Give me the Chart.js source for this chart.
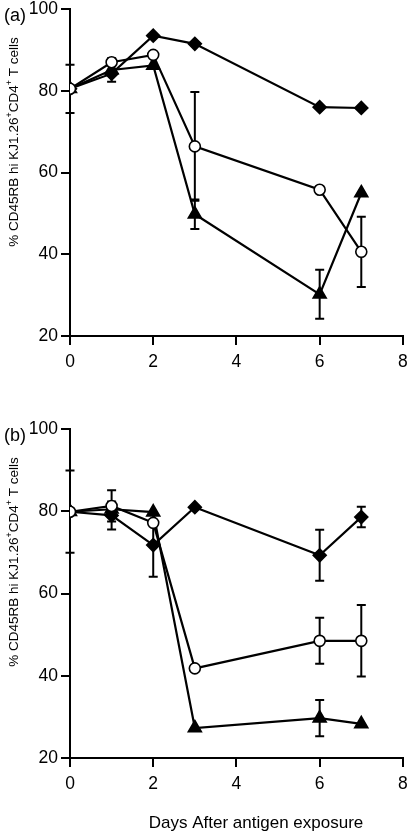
<!DOCTYPE html>
<html>
<head>
<meta charset="utf-8">
<script src="https://cdn.jsdelivr.net/npm/chart.js@4"></script>
<style>
  html, body { margin: 0; padding: 0; background: #fff; }
  #wrap { position: relative; width: 412px; height: 835px; overflow: hidden; }
  .box { position: absolute; left: 0; width: 412px; }
  #boxA { top: 0; height: 420px; }
  #boxB { top: 420px; height: 415px; }
</style>
</head>
<body>
<div id="wrap">
  <div class="box" id="boxA"><canvas id="chartA"></canvas></div>
  <div class="box" id="boxB"><canvas id="chartB"></canvas></div>
</div>
<script>
// ---- Data ----
const days = [0, 1, 2, 3, 6, 7];
const xTicks = [0, 2, 4, 6, 8];
const yTicks = [20, 40, 60, 80, 100];

// Panel (a)
const diamondA = [80.5, 84.2, 93.5, 91.5, 76.0, 75.8];
const circleA = [80.5, 87.0, 88.8, 66.4, 55.8, 40.6];
const triangleA = [80.5, 85.1, 86.2, 49.8, 30.2, 55.0];
const diamondErrA = [0, 0, 0, 0, 0, 0];
const circleErrA = [5.9, 0, 0, 13.3, 0, 8.6];
const triangleErrA = [0, 2.9, 0, 3.6, 6.0, 0];

// Panel (b)
const diamondB = [79.9, 79.0, 71.8, 81.0, 69.3, 78.6];
const circleB = [79.9, 81.3, 77.2, 41.8, 48.5, 48.5];
const triangleB = [79.9, 80.5, 79.8, 27.3, 29.7, 28.3];
const diamondErrB = [10.0, 3.4, 7.7, 0, 6.2, 2.5];
const circleErrB = [0, 3.8, 0, 0, 5.6, 8.7];
const triangleErrB = [0, 0, 0, 0, 4.4, 0];

const panelLabels = ['(a)', '(b)'];
const yTitleParts = [['% CD45RB hi KJ1.26', false], ['+', true], ['CD4', false], ['+', true], [' T cells', false]];
const xTitle = 'Days After antigen exposure';

const FONT = '"Liberation Sans", Arial, Helvetica, sans-serif';

function pts(vals) { return days.map((d, i) => ({ x: d, y: vals[i] })); }

const errorBarPlugin = {
  id: 'errorBars',
  beforeDatasetsDraw(chart) {
    const ctx = chart.ctx;
    const xs = chart.scales.x, ys = chart.scales.y;
    ctx.save();
    ctx.strokeStyle = '#000';
    ctx.lineWidth = 2;
    chart.data.datasets.forEach(ds => {
      (ds.errors || []).forEach((e, i) => {
        if (!e) return;
        const p = ds.data[i];
        const x = xs.getPixelForValue(p.x);
        const yt = ys.getPixelForValue(p.y + e);
        const yb = ys.getPixelForValue(p.y - e);
        ctx.beginPath();
        ctx.moveTo(x, yt); ctx.lineTo(x, yb);
        ctx.moveTo(x - 4.5, yt); ctx.lineTo(x + 4.5, yt);
        ctx.moveTo(x - 4.5, yb); ctx.lineTo(x + 4.5, yb);
        ctx.stroke();
      });
    });
    ctx.restore();
  }
};

const textPlugin = {
  id: 'texts',
  afterDraw(chart, args, opts) {
    const ctx = chart.ctx;
    ctx.save();
    ctx.fillStyle = '#000';
    // panel label
    ctx.font = '18px ' + FONT;
    ctx.textBaseline = 'alphabetic';
    ctx.textAlign = 'left';
    ctx.fillText(opts.label, 4, chart.chartArea.top + 12);
    // y title, rotated, with superscripts
    const big = '13.5px ' + FONT, small = '9px ' + FONT;
    let total = 0;
    yTitleParts.forEach(([t, sup]) => { ctx.font = sup ? small : big; total += ctx.measureText(t).width; });
    ctx.translate(opts.yTitleX, opts.yTitleY);
    ctx.rotate(-Math.PI / 2);
    let cx = -total / 2;
    yTitleParts.forEach(([t, sup]) => {
      ctx.font = sup ? small : big;
      ctx.fillText(t, cx, sup ? -1 : 5);
      cx += ctx.measureText(t).width;
    });
    ctx.setTransform(1, 0, 0, 1, 0, 0);
    if (opts.xTitle) {
      ctx.font = '17px ' + FONT;
      ctx.textAlign = 'center';
      ctx.textBaseline = 'middle';
      ctx.fillText(opts.xTitle, opts.xTitleX, opts.xTitleY);
    }
    ctx.restore();
  }
};

function makeChart(id, d, c, t, de, ce, te, label, bottomH, xTitleText) {
  const common = { borderColor: '#000', borderWidth: 2.2, pointBorderColor: '#000', pointBorderWidth: 1.6, showLine: true, tension: 0 };
  return new Chart(document.getElementById(id), {
    type: 'scatter',
    data: {
      datasets: [
        Object.assign({}, common, { label: 'open circle', data: pts(c), errors: ce, pointStyle: 'circle', pointRadius: 5.5, pointBackgroundColor: '#fff', backgroundColor: '#fff' }),
        Object.assign({}, common, { label: 'diamond', data: pts(d), errors: de, pointStyle: 'rectRot', pointRadius: 6.5, pointBackgroundColor: '#000', backgroundColor: '#000' }),
        Object.assign({}, common, { label: 'triangle', data: pts(t), errors: te, pointStyle: 'triangle', pointRadius: 7.5, pointBackgroundColor: '#000', backgroundColor: '#000' })
      ]
    },
    options: {
      responsive: true,
      maintainAspectRatio: false,
      animation: false,
      layout: { padding: { top: 7, right: 7, left: 0, bottom: 0 } },
      plugins: {
        legend: { display: false },
        tooltip: { enabled: false },
        texts: { label: label, yTitleX: 13, yTitleY: 142, xTitle: xTitleText, xTitleX: 256, xTitleY: 403 }
      },
      scales: {
        x: {
          type: 'linear', min: 0, max: 8,
          afterBuildTicks: s => { s.ticks = xTicks.map(v => ({ value: v })); },
          afterFit: s => { s.height = bottomH; s.paddingLeft = 0; s.paddingRight = 0; },
          grid: { display: true, drawOnChartArea: false, drawTicks: true, tickLength: 9, color: '#000', lineWidth: 2 },
          border: { display: true, color: '#000', width: 2 },
          ticks: { color: '#000', font: { family: FONT, size: 17.5 }, padding: 7, maxRotation: 0 }
        },
        y: {
          type: 'linear', min: 20, max: 100,
          afterBuildTicks: s => { s.ticks = yTicks.map(v => ({ value: v })); },
          afterFit: s => { s.width = 70; s.paddingTop = 0; s.paddingBottom = 0; },
          grid: { display: true, drawOnChartArea: false, drawTicks: true, tickLength: 9, color: '#000', lineWidth: 2 },
          border: { display: true, color: '#000', width: 2 },
          ticks: { color: '#000', font: { family: FONT, size: 17.5 }, padding: 3 }
        }
      }
    },
    plugins: [errorBarPlugin, textPlugin]
  });
}

makeChart('chartA', diamondA, circleA, triangleA, diamondErrA, circleErrA, triangleErrA, panelLabels[0], 84, null);
makeChart('chartB', diamondB, circleB, triangleB, diamondErrB, circleErrB, triangleErrB, panelLabels[1], 77, xTitle);
</script>
</body>
</html>
